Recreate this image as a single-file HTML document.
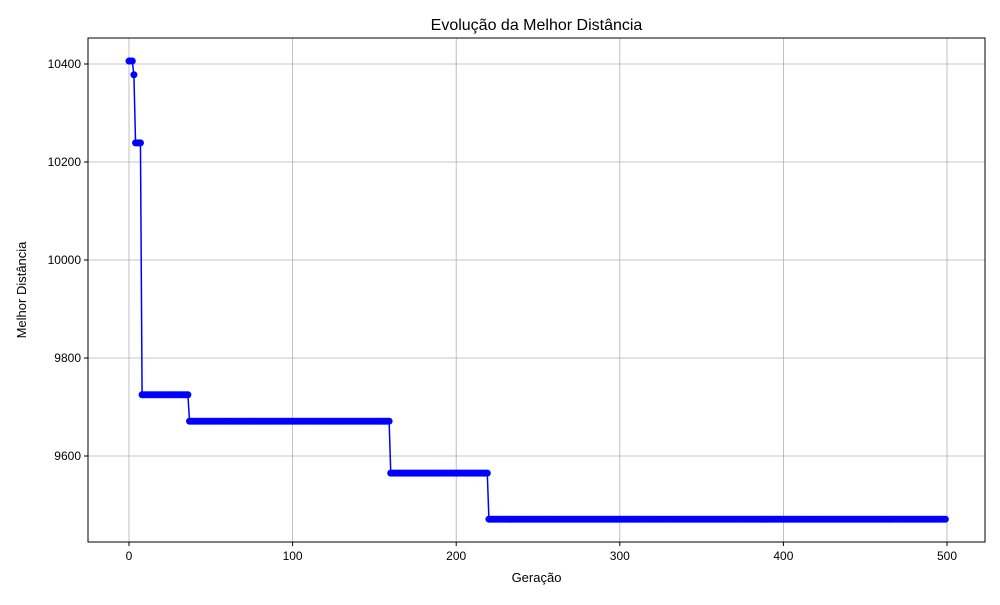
<!DOCTYPE html>
<html><head><meta charset="utf-8"><style>
body{margin:0;background:#fff;font-family:"Liberation Sans",sans-serif}
text{font-family:"Liberation Sans",sans-serif;fill:#000}
</style></head><body>
<svg id="c" width="1000" height="600"></svg>
<script>
const stepStarts=[0,3,4,8,37,160,220];
const stepValues=[10406,10378,10239,9725,9671,9565,9471];
const totalGenerations=500;
const xTicks=[0,100,200,300,400,500];
const yTicks=[9600,9800,10000,10200,10400];
const L=88,R=985,T=38,B=542;
const xs=v=>129+(v)*(947-129)/500;
const ys=v=>64+(10400-v)*(456-64)/800;
const svg=document.getElementById('c');
const NS='http://www.w3.org/2000/svg';
function mk(t,a,p){const e=document.createElementNS(NS,t);for(const k in a)e.setAttribute(k,a[k]);(p||svg).appendChild(e);return e;}
const vals=[];
for(let g=0;g<totalGenerations;g++){let v=stepValues[0];for(let i=0;i<stepStarts.length;i++)if(g>=stepStarts[i])v=stepValues[i];vals.push(v);}
const grid=mk('g',{});


xTicks.forEach(t=>{const x=xs(t);
 const gl=mk('line',{x1:x,x2:x,y1:T,y2:B,stroke:'#b0b0b0','stroke-width':0.8},grid);
 
 const tk=mk('line',{x1:x,x2:x,y1:B,y2:B+4,stroke:'#000'});
 
 const tl=mk('text',{x:x,y:B+18,'text-anchor':'middle','font-size':12});tl.textContent=t;
 });
yTicks.forEach(t=>{const y=ys(t);
 const gl=mk('line',{x1:L,x2:R,y1:y,y2:y,stroke:'#b0b0b0','stroke-width':0.8},grid);
 
 const tk=mk('line',{x1:L-4,x2:L,y1:y,y2:y,stroke:'#000'});
 
 const tl=mk('text',{x:L-7,y:y+4,'text-anchor':'end','font-size':12});tl.textContent=t;
 });
const pts=vals.map((v,i)=>xs(i)+','+ys(v)).join(' ');
const line=mk('polyline',{points:pts,fill:'none',stroke:'#0000ff','stroke-width':1.5});


const mg=mk('g',{fill:'#0000ff'});


vals.forEach((v,i)=>{const c=mk('circle',{cx:xs(i),cy:ys(v),r:3.5},mg);
 });
const fr=mk('rect',{x:L,y:T,width:R-L,height:B-T,fill:'none',stroke:'#000','stroke-width':1});

const ti=mk('text',{x:(L+R)/2,y:30,'text-anchor':'middle','font-size':16});ti.textContent='Evolução da Melhor Distância';

const xt=mk('text',{x:(L+R)/2,y:582,'text-anchor':'middle','font-size':13});xt.textContent='Geração';

const yt=mk('text',{x:0,y:0,'text-anchor':'middle','font-size':13,transform:'translate(26,290) rotate(-90)'});yt.textContent='Melhor Distância';

</script>
</body></html>
